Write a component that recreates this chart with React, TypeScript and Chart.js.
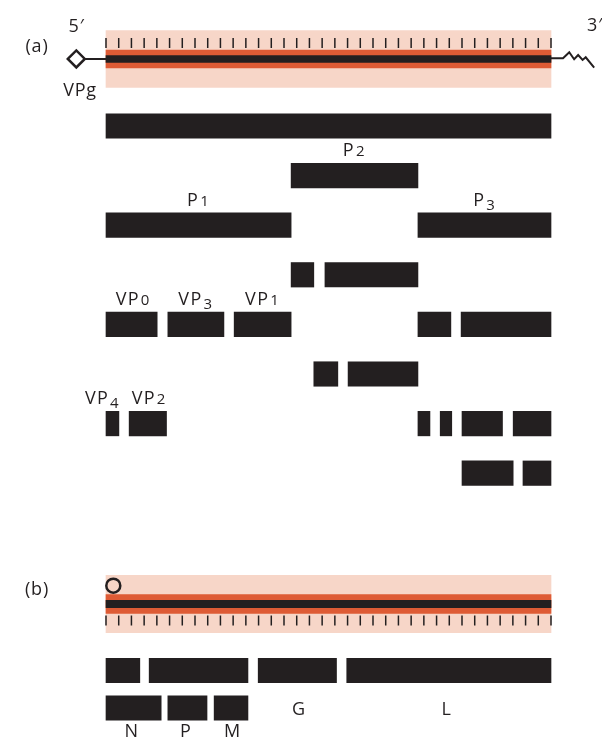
import React, { useEffect, useRef } from "react";
import { Chart, registerables } from "chart.js";

Chart.register(...registerables);

const W = 602;
const H = 746;
const INK = "#231f20";
const BAND_PINK = "#f7d6c8";
const BAND_ORANGE = "#de5b35";
const FONT = '"Open Sans", "Noto Sans", sans-serif';

// Horizontal axis: genome position in % of genome length. Vertical axis: row index.
const X_RANGE = [-23.82, 111.46];
const Y_RANGE = [-2.54, 12.5];

// ---------- (a) picornavirus genome ----------
const GENOME_A_ROW = -1.351;
const RULER_A_ROW = -1.673;
const GENOME_SPAN = [[0, 100]];
const VPG_X = -6.67;
const TAIL_X = [100, 102.7, 104.1, 105.2, 106.1, 107.1, 107.8, 109.7];
const TAIL_Y = [-1.365, -1.365, -1.486, -1.345, -1.431, -1.331, -1.385, -1.175];

// polyprotein processing cascade, one list of [start, end] segments per row
const ROWS_A = [0, 1, 2, 3, 4, 5, 6, 7];
const POLYPROTEIN = [[0, 100]];
const P2_PRECURSOR = [[41.6, 70.1]];
const P1_P3 = [[0, 41.6], [70.1, 100]];
const P2_CLEAVED = [[41.6, 46.7], [49.2, 70.1]];
const CAPSID_P3 = [[0, 11.5], [13.9, 26.5], [28.8, 41.6], [70.1, 77.5], [79.8, 100]];
const P2_FINAL = [[46.7, 52.1], [54.4, 70.1]];
const VP4_VP2_P3 = [[0, 2.9], [5.2, 13.6], [70.1, 72.8], [75.1, 77.7], [80.0, 89.1], [91.5, 100]];
const P3_FINAL = [[80.0, 91.5], [93.7, 100]];
const SEGMENTS_A = [POLYPROTEIN, P2_PRECURSOR, P1_P3, P2_CLEAVED, CAPSID_P3, P2_FINAL, VP4_VP2_P3, P3_FINAL];

const LABELS_A = ["P2", "P1", "P3", "VP0", "VP3", "VP1", "VP4", "VP2"];
const LABEL_X_A = [55.8, 20.8, 85.1, 6.1, 20.2, 35.2, -0.8, 9.7];
const LABEL_ROW_A = [1, 2, 2, 4, 4, 4, 6, 6];

// ---------- (b) rhabdovirus genome ----------
const GENOME_B_ROW = 9.637;
const RULER_B_ROW = 9.97;
const CAP_X = 1.64;
const CAP_ROW = 9.268;
const ROWS_B = [10.978, 11.734];
const TRANSCRIPTS_B1 = [[0, 7.6], [9.7, 31.9], [34.2, 51.8], [54.1, 100]];
const TRANSCRIPTS_B2 = [[0, 12.4], [13.9, 22.7], [24.3, 31.9]];
const SEGMENTS_B = [TRANSCRIPTS_B1, TRANSCRIPTS_B2];

const LABELS_B_INLINE = ["G", "L"];
const LABEL_X_B_INLINE = [43.4, 76.6];
const LABELS_B_BELOW = ["N", "P", "M"];
const LABEL_X_B_BELOW = [5.8, 18.0, 28.5];

// ruler: 35 equal divisions along the genome
const RULER_DIVISIONS = 35;
const RULER_TICKS = Array.from({ length: RULER_DIVISIONS + 1 }, (_, i) => (i * 100) / RULER_DIVISIONS);

// free annotations [text, x, row-baseline]
const NOTES = [
  { text: "(a)", x: -15.5, y: -1.49 },
  { text: "5\u2032", x: -6.6, y: -1.895 },
  { text: "3\u2032", x: 109.9, y: -1.915 },
  { text: "VPg", x: -5.84, y: -0.605 },
  { text: "(b)", x: -15.5, y: 9.456 },
];

const BAR_H = 24.5;

function toBars(rows: number[][][], positions: number[]) {
  const out: any[] = [];
  rows.forEach((segs, i) => segs.forEach(([s, e]) => out.push({ x: [s, e], y: positions[i] })));
  return out;
}

function drawLabel(ctx: CanvasRenderingContext2D, text: string, cx: number, baseline: number) {
  const m = text.match(/^(\D*)(\d*)$/);
  const head = m ? m[1] : text;
  const digits = m ? m[2] : "";
  ctx.font = `18px ${FONT}`;
  const w1 = ctx.measureText(head).width;
  ctx.font = `15px ${FONT}`;
  const w2 = digits ? ctx.measureText(digits).width + 1 : 0;
  let x = cx - (w1 + w2) / 2;
  ctx.textAlign = "left";
  ctx.font = `18px ${FONT}`;
  ctx.fillText(head, x, baseline);
  x += w1 + 1;
  if (digits) {
    ctx.font = `15px ${FONT}`;
    const drop = /[34579]/.test(digits) ? 4 : 0;
    ctx.fillText(digits, x, baseline + drop);
  }
}

const labelPlugin = {
  id: "diagramLabels",
  afterDatasetsDraw(chart: any) {
    const { ctx, scales } = chart;
    const xs = scales.x;
    const ys = scales.y;
    ctx.save();
    ctx.fillStyle = INK;
    ctx.textBaseline = "alphabetic";
    (ctx as any).letterSpacing = "1.3px";
    LABELS_A.forEach((t, i) => {
      const cx = xs.getPixelForValue(LABEL_X_A[i]);
      const by = ys.getPixelForValue(LABEL_ROW_A[i]) - BAR_H / 2 - 7;
      drawLabel(ctx, t, cx, by);
    });
    LABELS_B_INLINE.forEach((t, i) => {
      drawLabel(ctx, t, xs.getPixelForValue(LABEL_X_B_INLINE[i]), ys.getPixelForValue(ROWS_B[1]) + 7);
    });
    LABELS_B_BELOW.forEach((t, i) => {
      drawLabel(ctx, t, xs.getPixelForValue(LABEL_X_B_BELOW[i]), ys.getPixelForValue(ROWS_B[1]) + BAR_H / 2 + 17);
    });
    (ctx as any).letterSpacing = "0.8px";
    ctx.font = `18px ${FONT}`;
    ctx.textAlign = "center";
    NOTES.forEach((n) => {
      ctx.fillText(n.text, xs.getPixelForValue(n.x), ys.getPixelForValue(n.y));
    });
    ctx.restore();
  },
};

export default function App() {
  const ref = useRef<HTMLCanvasElement | null>(null);

  useEffect(() => {
    if (!ref.current) return;
    const band = (row: number, color: string, thickness: number, order: number) => ({
      type: "bar" as const,
      indexAxis: "y" as const,
      data: toBars([GENOME_SPAN], [row]),
      backgroundColor: color,
      borderWidth: 0,
      barThickness: thickness,
      grouped: false,
      order,
    });
    const ruler = (row: number) => ({
      type: "scatter" as const,
      data: RULER_TICKS.map((t) => ({ x: t, y: row })),
      pointStyle: "line",
      rotation: 90,
      radius: 5,
      borderColor: INK,
      borderWidth: 1.5,
      order: 7,
    });

    const chart = new Chart(ref.current, {
      type: "scatter",
      data: {
        datasets: [
          band(GENOME_A_ROW, BAND_PINK, 57, 10),
          band(GENOME_B_ROW, BAND_PINK, 57.5, 10),
          band(GENOME_A_ROW, BAND_ORANGE, 18, 9),
          band(GENOME_B_ROW, BAND_ORANGE, 19, 9),
          band(GENOME_A_ROW, INK, 6.8, 8),
          band(GENOME_B_ROW, INK, 7.5, 8),
          ruler(RULER_A_ROW),
          ruler(RULER_B_ROW),
          {
            type: "bar",
            indexAxis: "y",
            data: toBars(SEGMENTS_A, ROWS_A).concat(toBars(SEGMENTS_B, ROWS_B)),
            backgroundColor: INK,
            borderWidth: 0,
            barThickness: BAR_H,
            grouped: false,
            order: 3,
          },
          {
            type: "line",
            data: [
              { x: VPG_X, y: GENOME_A_ROW },
              { x: 0, y: GENOME_A_ROW },
            ],
            borderColor: INK,
            borderWidth: 2,
            pointRadius: 0,
            order: 2,
          },
          {
            type: "line",
            data: TAIL_X.map((x, i) => ({ x, y: TAIL_Y[i] })),
            borderColor: INK,
            borderWidth: 2,
            pointRadius: 0,
            tension: 0,
            order: 2,
          },
          {
            type: "scatter",
            data: [{ x: VPG_X, y: GENOME_A_ROW }],
            pointStyle: "rectRot",
            radius: 8.5,
            backgroundColor: "#ffffff",
            borderColor: INK,
            borderWidth: 2.5,
            order: 1,
          },
          {
            type: "scatter",
            data: [{ x: CAP_X, y: CAP_ROW }],
            pointStyle: "circle",
            radius: 7,
            backgroundColor: "rgba(0,0,0,0)",
            borderColor: INK,
            borderWidth: 2.5,
            order: 1,
          },
        ] as any,
      },
      options: {
        animation: false,
        responsive: false,
        devicePixelRatio: 1,
        events: [],
        layout: { padding: 0, autoPadding: false },
        plugins: { legend: { display: false }, tooltip: { enabled: false } },
        scales: {
          x: { type: "linear", display: false, min: X_RANGE[0], max: X_RANGE[1], offset: false, grid: { offset: false } },
          y: { type: "linear", display: false, reverse: true, min: Y_RANGE[0], max: Y_RANGE[1], offset: false, grid: { offset: false } },
        },
      } as any,
      plugins: [labelPlugin],
    });
    return () => chart.destroy();
  }, []);

  return (
    <div style={{ position: "absolute", left: 0, top: 0, width: W, height: H, background: "#ffffff" }}>
      <canvas ref={ref} width={W} height={H} style={{ display: "block", width: W, height: H }} />
    </div>
  );
}
